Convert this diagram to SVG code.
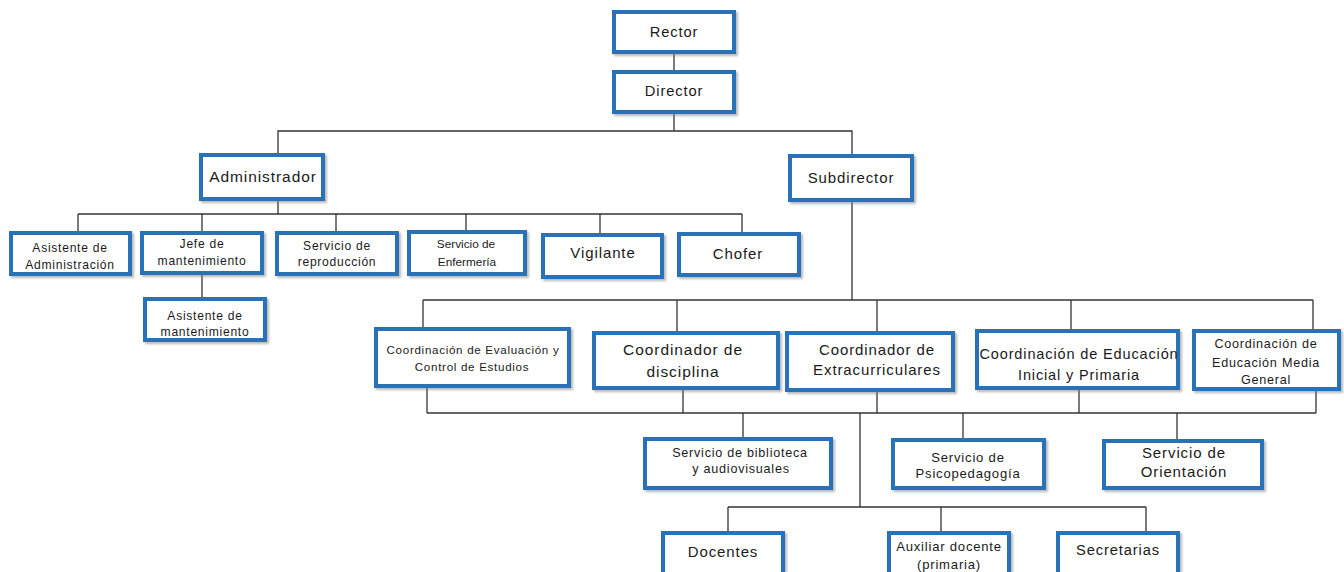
<svg xmlns="http://www.w3.org/2000/svg" width="1344" height="572" viewBox="0 0 1344 572">
<defs>
<filter id="sh" x="-10%" y="-10%" width="130%" height="140%">
<feDropShadow dx="2" dy="2" stdDeviation="1" flood-color="#7f7f7f" flood-opacity="0.55"/>
</filter>
<style>
.b{fill:#fff;stroke:#2a72b8;stroke-width:4;filter:url(#sh)}
.t{font-family:"Liberation Sans",Arial,sans-serif;fill:#1a1a1a;text-anchor:middle;letter-spacing:0.06em}
.c line,.c polyline{stroke:#333;stroke-width:1.3;fill:none}
</style>
</defs>
<rect width="1344" height="572" fill="#fff"/>
<g class="c">
<line x1="674" y1="52" x2="674" y2="72"/>
<line x1="674" y1="112" x2="674" y2="131"/>
<polyline points="278,155 278,131 852,131 852,155"/>
<line x1="278" y1="199" x2="278" y2="214"/>
<line x1="78" y1="214" x2="742" y2="214"/>
<line x1="78" y1="214" x2="78" y2="232"/>
<line x1="202" y1="214" x2="202" y2="232"/>
<line x1="336" y1="214" x2="336" y2="232"/>
<line x1="466" y1="214" x2="466" y2="231"/>
<line x1="600" y1="214" x2="600" y2="234"/>
<line x1="742" y1="214" x2="742" y2="233"/>
<line x1="202" y1="273" x2="202" y2="298"/>
<line x1="852" y1="200" x2="852" y2="300"/>
<line x1="423" y1="300" x2="1313" y2="300"/>
<line x1="423" y1="300" x2="423" y2="328"/>
<line x1="677" y1="300" x2="677" y2="332"/>
<line x1="877" y1="300" x2="877" y2="332"/>
<line x1="1071" y1="300" x2="1071" y2="330"/>
<line x1="1313" y1="300" x2="1313" y2="330"/>
<line x1="427" y1="386" x2="427" y2="413"/>
<line x1="683" y1="388" x2="683" y2="413"/>
<line x1="877" y1="390" x2="877" y2="413"/>
<line x1="1079" y1="388" x2="1079" y2="413"/>
<line x1="1316" y1="390" x2="1316" y2="413"/>
<line x1="427" y1="413" x2="1316" y2="413"/>
<line x1="743" y1="413" x2="743" y2="438"/>
<line x1="963" y1="413" x2="963" y2="439"/>
<line x1="1177" y1="413" x2="1177" y2="440"/>
<line x1="860" y1="413" x2="860" y2="507"/>
<line x1="728" y1="507" x2="1146" y2="507"/>
<line x1="728" y1="507" x2="728" y2="532"/>
<line x1="941" y1="507" x2="941" y2="532"/>
<line x1="1146" y1="507" x2="1146" y2="532"/>
</g>
<g id="rector"><rect class="b" x="614" y="12" width="120" height="40"/><text class="t" x="674" y="37" font-size="14.7">Rector</text></g>
<g id="director"><rect class="b" x="614" y="72" width="120" height="40"/><text class="t" x="674" y="96" font-size="14.7">Director</text></g>
<g id="administrador"><rect class="b" x="201" y="155" width="122" height="44"/><text class="t" x="263" y="182" font-size="15.5">Administrador</text></g>
<g id="subdirector"><rect class="b" x="790" y="156" width="122" height="44"/><text class="t" x="851" y="183" font-size="15">Subdirector</text></g>
<g id="asist-admin"><rect class="b" x="11" y="233" width="119" height="41"/><text class="t" x="70" y="252" font-size="12.1">Asistente de</text><text class="t" x="70" y="269" font-size="12.1">Administración</text></g>
<g id="jefe-mant"><rect class="b" x="142" y="233" width="120" height="40"/><text class="t" x="202" y="248" font-size="12.1">Jefe de</text><text class="t" x="202" y="265" font-size="12.1">mantenimiento</text></g>
<g id="asist-mant"><rect class="b" x="145" y="299" width="120" height="41"/><text class="t" x="205" y="320" font-size="12.1">Asistente de</text><text class="t" x="205" y="336" font-size="12.1">mantenimiento</text></g>
<g id="reproduccion"><rect class="b" x="277" y="233" width="120" height="41"/><text class="t" x="337" y="250" font-size="12.1">Servicio de</text><text class="t" x="337" y="266" font-size="12.1">reproducción</text></g>
<g id="enfermeria"><rect class="b" x="409" y="232" width="116" height="42"/><text class="t" x="466" y="248" font-size="11.8" style="letter-spacing:0">Servicio de</text><text class="t" x="467" y="266" font-size="11.8" style="letter-spacing:0">Enfermería</text></g>
<g id="vigilante"><rect class="b" x="543" y="235" width="119" height="42"/><text class="t" x="603" y="258" font-size="15">Vigilante</text></g>
<g id="chofer"><rect class="b" x="679" y="234" width="120" height="41"/><text class="t" x="738" y="259" font-size="15">Chofer</text></g>
<g id="coord-eval"><rect class="b" x="376" y="329" width="193" height="57"/><text class="t" x="473" y="354" font-size="11.6">Coordinación de Evaluación y</text><text class="t" x="472" y="371" font-size="11.6">Control de Estudios</text></g>
<g id="coord-disc"><rect class="b" x="594" y="333" width="184" height="55"/><text class="t" x="683" y="355" font-size="15.5">Coordinador de</text><text class="t" x="683" y="377" font-size="15.5">disciplina</text></g>
<g id="coord-extra"><rect class="b" x="787" y="333" width="166" height="57"/><text class="t" x="877" y="355" font-size="15">Coordinador de</text><text class="t" x="877" y="375" font-size="15">Extracurriculares</text></g>
<g id="coord-inicial"><rect class="b" x="977" y="331" width="201" height="57"/><text class="t" x="1079" y="359" font-size="14.5">Coordinación de Educación</text><text class="t" x="1079" y="380" font-size="14.5">Inicial y Primaria</text></g>
<g id="coord-media"><rect class="b" x="1194" y="331" width="145" height="58"/><text class="t" x="1266" y="348" font-size="12.6">Coordinación de</text><text class="t" x="1266" y="367" font-size="12.6">Educación Media</text><text class="t" x="1266" y="384" font-size="12.6">General</text></g>
<g id="biblioteca"><rect class="b" x="645" y="439" width="186" height="49"/><text class="t" x="740" y="457" font-size="12.6">Servicio de biblioteca</text><text class="t" x="741" y="473" font-size="12.6">y audiovisuales</text></g>
<g id="psicopedagogia"><rect class="b" x="893" y="440" width="151" height="48"/><text class="t" x="968" y="462" font-size="13.1">Servicio de</text><text class="t" x="968" y="478" font-size="13.1">Psicopedagogía</text></g>
<g id="orientacion"><rect class="b" x="1104" y="441" width="158" height="47"/><text class="t" x="1184" y="458" font-size="15">Servicio de</text><text class="t" x="1184" y="477" font-size="15">Orientación</text></g>
<g id="docentes"><rect class="b" x="663" y="533" width="120" height="44"/><text class="t" x="723" y="557" font-size="15">Docentes</text></g>
<g id="auxiliar"><rect class="b" x="889" y="533" width="120" height="44"/><text class="t" x="949" y="551" font-size="13.1">Auxiliar docente</text><text class="t" x="949" y="569" font-size="13.1">(primaria)</text></g>
<g id="secretarias"><rect class="b" x="1058" y="533" width="120" height="44"/><text class="t" x="1118" y="555" font-size="14.7">Secretarias</text></g>
</svg>
